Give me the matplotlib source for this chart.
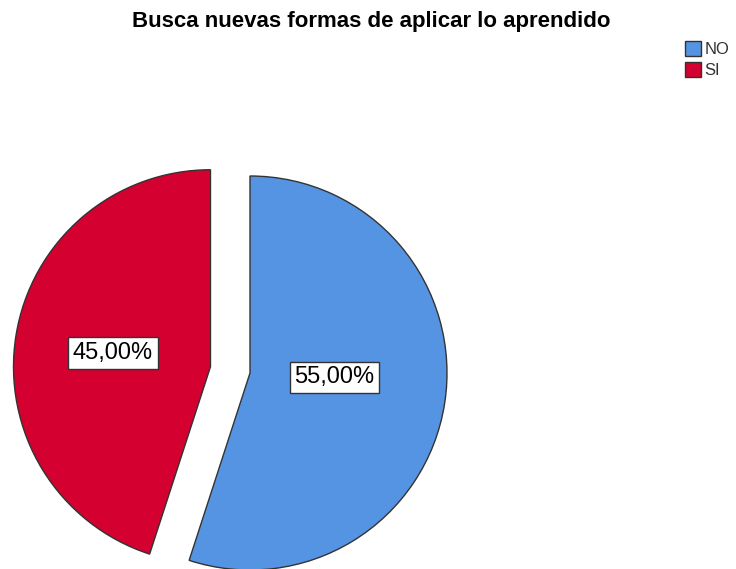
import math
import matplotlib
matplotlib.use("Agg")
import matplotlib.pyplot as plt
from matplotlib.patches import Patch

categories = ["NO", "SI"]
values = [55.0, 45.0]
colors = ["#5594E2", "#D30030"]
title = "Busca nuevas formas de aplicar lo aprendido"

plt.rcParams['font.family'] = ['Liberation Sans', 'DejaVu Sans']

W, H = 736, 569
fig = plt.figure(figsize=(W / 100, H / 100), dpi=100)
ax = fig.add_axes([0, 0, 1, 1])

R = 197
wedges, texts, autotexts = ax.pie(
    values, colors=colors, startangle=90, counterclock=False,
    center=(250, 196), radius=R, explode=[0, 40],
    autopct=lambda p: f"{p:.2f}%".replace('.', ','), pctdistance=0.5,
    wedgeprops=dict(edgecolor='#333333', linewidth=1.0),
    textprops=dict(fontsize=17, color='black'),
    frame=True)
ax.set_xlim(0, W)
ax.set_ylim(0, H)
ax.set_aspect('equal')
ax.axis('off')

# label placement (distance fraction, angle) inside each wedge
label_pos = [(0.43, -3.0), (0.5, 171.9)]
for w, t, (d, a) in zip(wedges, autotexts, label_pos):
    cx, cy = w.center
    t.set_position((cx + d * R * math.cos(math.radians(a)), cy + d * R * math.sin(math.radians(a))))
    t.set_bbox(dict(boxstyle='square,pad=0.2', facecolor='white', edgecolor='#333333', linewidth=1.0))

fig.text(371 / W, 1 - 21 / H, title, ha='center', va='center', fontsize=16, fontweight='bold', color='black')

handles = [Patch(facecolor=c, edgecolor='#333333', linewidth=1.0) for c in colors]
leg = fig.legend(handles, categories, loc='upper left', bbox_to_anchor=(683 / W, 1 - 39 / H),
                 frameon=False, fontsize=12, handlelength=1.0, handleheight=1.0,
                 handletextpad=0.2, labelspacing=0.3, borderpad=0.1, borderaxespad=0)
for t in leg.get_texts():
    t.set_color('#333333')

fig.savefig("out.png", dpi=100)
